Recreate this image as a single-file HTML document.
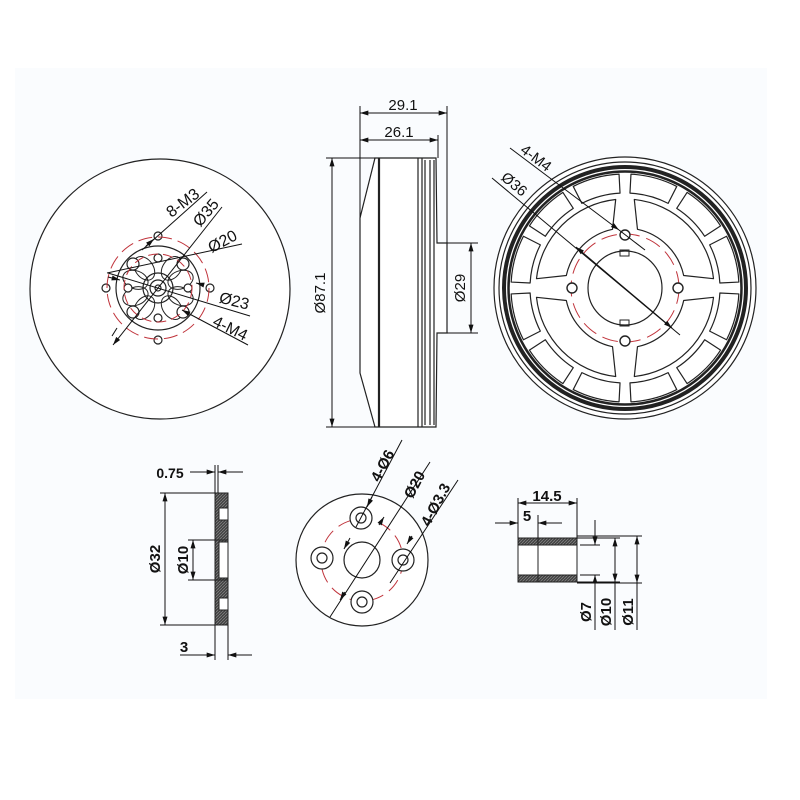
<!DOCTYPE html>
<html><head><meta charset="utf-8"><style>
html,body{margin:0;padding:0;background:#fff;}
svg{display:block;}
text{font-family:"Liberation Sans",sans-serif;fill:#111;}
</style></head><body>
<svg width="800" height="800" viewBox="0 0 800 800" xmlns="http://www.w3.org/2000/svg">
<defs>
<marker id="a" viewBox="0 0 10 6" refX="10" refY="3" markerWidth="9" markerHeight="5" orient="auto-start-reverse" markerUnits="userSpaceOnUse"><path d="M0,0 L10,3 L0,6 Z" fill="#111"/></marker>
<pattern id="h" width="3" height="3" patternUnits="userSpaceOnUse"><rect width="3" height="3" fill="#444"/><path d="M0,3 L3,0" stroke="#888" stroke-width="0.7"/></pattern>
</defs>
<rect x="15" y="68" width="752" height="631" fill="#fafcfe"/>

<!-- LEFT FRONT VIEW -->
<g fill="none" stroke="#222" stroke-width="1.2">
<circle cx="160" cy="289" r="130" fill="#fff"/>
<circle cx="158" cy="288" r="42"/>
<circle cx="158" cy="288" r="15"/>
<circle cx="158" cy="288" r="8"/>
<circle cx="158" cy="288" r="3"/>
<g stroke-width="1">
<ellipse cx="158" cy="264" rx="9" ry="13" transform="rotate(35 158 288)"/>
<ellipse cx="158" cy="264" rx="9" ry="13" transform="rotate(-35 158 288)"/>
<ellipse cx="158" cy="264" rx="9" ry="13" transform="rotate(145 158 288)"/>
<ellipse cx="158" cy="264" rx="9" ry="13" transform="rotate(-145 158 288)"/>
<ellipse cx="158" cy="264" rx="9" ry="13" transform="rotate(70 158 288)"/>
<ellipse cx="158" cy="264" rx="9" ry="13" transform="rotate(-70 158 288)"/>
<ellipse cx="158" cy="264" rx="9" ry="13" transform="rotate(110 158 288)"/>
<ellipse cx="158" cy="264" rx="9" ry="13" transform="rotate(-110 158 288)"/>
</g>
<g fill="#fff">
<circle cx="158" cy="236" r="4"/><circle cx="158" cy="340" r="4"/><circle cx="106" cy="288" r="4"/><circle cx="210" cy="288" r="4"/>
<circle cx="158" cy="258" r="4"/><circle cx="158" cy="318" r="4"/><circle cx="128" cy="288" r="4"/><circle cx="188" cy="288" r="4"/>
<circle cx="133" cy="264" r="6"/><circle cx="183" cy="264" r="6"/><circle cx="133" cy="312" r="6"/><circle cx="183" cy="312" r="6"/>
</g>
</g>
<circle cx="158" cy="288" r="51" fill="none" stroke="#c0343c" stroke-width="1" stroke-dasharray="14,6"/>
<circle cx="158" cy="288" r="34" fill="none" stroke="#c0343c" stroke-width="1" stroke-dasharray="10,5"/>
<g stroke="#111" stroke-width="1" fill="none">
<line x1="142" y1="250" x2="207" y2="192"/>
<line x1="146" y1="246" x2="154" y2="239" marker-end="url(#a)"/>
<line x1="113" y1="345" x2="222" y2="207" marker-start="url(#a)"/>
<line x1="107" y1="273" x2="242" y2="244"/>
<line x1="117" y1="328" x2="112" y2="336" />
<line x1="108" y1="273" x2="250" y2="316"/>
<line x1="120" y1="280" x2="108" y2="277" marker-start="url(#a)"/>
<line x1="200" y1="284" x2="196" y2="283" marker-end="url(#a)"/>
<line x1="182" y1="310" x2="248" y2="345" marker-start="url(#a)"/>
</g>
<text x="186" y="207" font-size="16" transform="rotate(-37 186 207)" text-anchor="middle">8-M3</text>
<text x="210" y="216" font-size="16" transform="rotate(-50 210 216)" text-anchor="middle">Ø35</text>
<text x="225" y="246" font-size="16" transform="rotate(-28 225 246)" text-anchor="middle">Ø20</text>
<text x="233" y="306" font-size="16" transform="rotate(14 233 306)" text-anchor="middle">Ø23</text>
<text x="228" y="333" font-size="16" transform="rotate(26 228 333)" text-anchor="middle">4-M4</text>

<!-- SIDE VIEW -->
<g fill="none" stroke="#222" stroke-width="1.2">
<path d="M375,158 L436,158 L437,243 L447,243 L447,333 L437,333 L436,427 L375,427 L360,373 L360,218 Z" fill="#fff"/>
<line x1="379" y1="158" x2="379" y2="427" stroke-width="2.2"/>
<line x1="418" y1="158" x2="418" y2="427"/>
<line x1="422" y1="158" x2="422" y2="427"/>
<line x1="425" y1="160" x2="425" y2="425"/>
<line x1="430" y1="160" x2="430" y2="425"/>
<line x1="434" y1="160" x2="434" y2="425"/>
</g>
<g stroke="#111" stroke-width="1" fill="none">
<line x1="360" y1="106" x2="360" y2="218"/>
<line x1="447" y1="106" x2="447" y2="243"/>
<line x1="438" y1="135" x2="438" y2="158"/>
<line x1="360" y1="113" x2="447" y2="113" marker-start="url(#a)" marker-end="url(#a)"/>
<line x1="360" y1="140" x2="438" y2="140" marker-start="url(#a)" marker-end="url(#a)"/>
<line x1="326" y1="158" x2="375" y2="158"/>
<line x1="326" y1="427" x2="375" y2="427"/>
<line x1="332" y1="158" x2="332" y2="427" marker-start="url(#a)" marker-end="url(#a)"/>
<line x1="447" y1="243" x2="478" y2="243"/>
<line x1="447" y1="333" x2="478" y2="333"/>
<line x1="471" y1="243" x2="471" y2="333" marker-start="url(#a)" marker-end="url(#a)"/>
</g>
<text x="403" y="110" font-size="15" text-anchor="middle">29.1</text>
<text x="399" y="137" font-size="15" text-anchor="middle">26.1</text>
<text x="325" y="293" font-size="15" text-anchor="middle" transform="rotate(-90 325 293)">Ø87.1</text>
<text x="465" y="288" font-size="15" text-anchor="middle" transform="rotate(-90 465 288)">Ø29</text>

<!-- RIGHT VIEW -->
<g fill="none" stroke="#222" stroke-width="1.2">
<circle cx="625" cy="288" r="131" fill="#fff"/>
<circle cx="625" cy="288" r="126"/>
<circle cx="625" cy="288" r="121" stroke-width="4"/>
<circle cx="625" cy="288" r="116.5" stroke-width="2.5"/>
<circle cx="625" cy="288" r="37"/>
</g>
<g fill="#fff" stroke="#222" stroke-width="1.2" stroke-linejoin="round">
<g id="oc">
<path d="M629.97,193.13 A95,95 0 0 1 668.13,203.36 L676.76,186.43 A114,114 0 0 0 630.96,174.16 Z"/>
</g>
<use href="#oc" transform="rotate(30 625 288)"/>
<use href="#oc" transform="rotate(60 625 288)"/>
<use href="#oc" transform="rotate(90 625 288)"/>
<use href="#oc" transform="rotate(120 625 288)"/>
<use href="#oc" transform="rotate(150 625 288)"/>
<use href="#oc" transform="rotate(180 625 288)"/>
<use href="#oc" transform="rotate(210 625 288)"/>
<use href="#oc" transform="rotate(240 625 288)"/>
<use href="#oc" transform="rotate(270 625 288)"/>
<use href="#oc" transform="rotate(300 625 288)"/>
<use href="#oc" transform="rotate(330 625 288)"/>
<g id="ic">
<path d="M637.47,229.31 A60,60 0 0 1 683.69,275.53 L713.51,278.70 A89,89 0 0 0 634.30,199.49 Z"/>
</g>
<use href="#ic" transform="rotate(90 625 288)"/>
<use href="#ic" transform="rotate(180 625 288)"/>
<use href="#ic" transform="rotate(270 625 288)"/>
</g>
<circle cx="625" cy="288" r="54" fill="none" stroke="#c0343c" stroke-width="1" stroke-dasharray="16,7"/>
<g fill="#fff" stroke="#222" stroke-width="1.4">
<circle cx="625" cy="235" r="5"/><circle cx="625" cy="341" r="5"/><circle cx="572" cy="288" r="5"/><circle cx="678" cy="288" r="5"/>
</g>
<g fill="none" stroke="#222" stroke-width="1">
<rect x="620" y="250" width="9" height="6"/><rect x="620" y="320" width="9" height="6"/>
</g>
<g stroke="#111" stroke-width="1" fill="none">
<line x1="510" y1="148" x2="619" y2="230" marker-end="url(#a)"/>
<line x1="619" y1="230" x2="645" y2="250"/>
<line x1="492" y1="178" x2="680" y2="335"/>
<line x1="576" y1="247" x2="672" y2="328" marker-start="url(#a)" marker-end="url(#a)"/>
</g>
<text x="533" y="162" font-size="15" text-anchor="middle" transform="rotate(37 533 162)">4-M4</text>
<text x="511" y="188" font-size="15" text-anchor="middle" transform="rotate(40 511 188)">Ø36</text>

<!-- WASHER SIDE -->
<g stroke="#222" stroke-width="1">
<rect x="215" y="493" width="13" height="132" fill="url(#h)"/>
<rect x="219" y="508" width="9" height="12" fill="#fff"/>
<rect x="215" y="540" width="13" height="40" fill="url(#h)"/>
<rect x="219" y="542" width="9" height="36" fill="#fff"/>
<rect x="219" y="598" width="9" height="12" fill="#fff"/>
</g>
<g stroke="#111" stroke-width="1" fill="none">
<line x1="215" y1="465" x2="215" y2="493"/><line x1="218" y1="465" x2="218" y2="493"/>
<line x1="190" y1="472" x2="215" y2="472" marker-end="url(#a)"/>
<line x1="243" y1="472" x2="218" y2="472" marker-end="url(#a)"/>
<line x1="160" y1="493" x2="215" y2="493"/><line x1="160" y1="625" x2="215" y2="625"/>
<line x1="165" y1="493" x2="165" y2="625" marker-start="url(#a)" marker-end="url(#a)"/>
<line x1="188" y1="540" x2="215" y2="540"/><line x1="188" y1="580" x2="215" y2="580"/>
<line x1="193" y1="540" x2="193" y2="580" marker-start="url(#a)" marker-end="url(#a)"/>
<line x1="215" y1="625" x2="215" y2="660"/><line x1="228" y1="625" x2="228" y2="660"/>
<line x1="180" y1="655" x2="215" y2="655" marker-end="url(#a)"/>
<line x1="252" y1="655" x2="228" y2="655" marker-end="url(#a)"/>
</g>
<text x="170" y="478" font-size="14" font-weight="bold" text-anchor="middle">0.75</text>
<text x="160" y="559" font-size="15" font-weight="bold" text-anchor="middle" transform="rotate(-90 160 559)">Ø32</text>
<text x="188" y="560" font-size="15" font-weight="bold" text-anchor="middle" transform="rotate(-90 188 560)">Ø10</text>
<text x="184" y="652" font-size="15" font-weight="bold" text-anchor="middle">3</text>

<!-- FLANGE FRONT -->
<g fill="none" stroke="#222" stroke-width="1.2">
<circle cx="362" cy="560" r="66" fill="#fff"/>
<circle cx="362" cy="560" r="18"/>
</g>
<circle cx="362" cy="560" r="41" fill="none" stroke="#c0343c" stroke-width="1" stroke-dasharray="14,7"/>
<g fill="#fff" stroke="#222" stroke-width="1.2">
<circle cx="361" cy="518" r="11"/><circle cx="361" cy="518" r="5"/>
<circle cx="322" cy="558" r="11"/><circle cx="322" cy="558" r="5"/>
<circle cx="403" cy="560" r="11"/><circle cx="403" cy="560" r="5"/>
<circle cx="362" cy="602" r="11"/><circle cx="362" cy="602" r="5"/>
</g>
<g stroke="#111" stroke-width="1" fill="none">
<line x1="402" y1="440" x2="356" y2="527"/>
<line x1="372" y1="497" x2="367" y2="507" marker-end="url(#a)"/>
<line x1="350" y1="538" x2="344" y2="549" marker-end="url(#a)"/>
<line x1="430" y1="462" x2="330" y2="617"/>
<line x1="345" y1="592" x2="340" y2="600" marker-end="url(#a)"/>
<line x1="379" y1="525" x2="384" y2="517" marker-end="url(#a)"/>
<line x1="458" y1="480" x2="390" y2="583"/>
<line x1="412" y1="536" x2="407" y2="544" marker-end="url(#a)"/>
</g>
<text x="387" y="468" font-size="15" font-weight="bold" text-anchor="middle" transform="rotate(-62 387 468)">4-Ø6</text>
<text x="419" y="487" font-size="15" font-weight="bold" text-anchor="middle" transform="rotate(-62 419 487)">Ø20</text>
<text x="440" y="507" font-size="15" font-weight="bold" text-anchor="middle" transform="rotate(-62 440 507)">4-Ø3.3</text>

<!-- SLEEVE -->
<g stroke="#222" stroke-width="1">
<rect x="518" y="538" width="59" height="44" fill="#fff"/>
<rect x="518" y="538" width="59" height="7" fill="url(#h)"/>
<rect x="518" y="575" width="59" height="7" fill="url(#h)"/>
<line x1="538" y1="538" x2="538" y2="582"/>
</g>
<g stroke="#111" stroke-width="1" fill="none">
<line x1="518" y1="498" x2="518" y2="538"/><line x1="577" y1="498" x2="577" y2="538"/><line x1="538" y1="515" x2="538" y2="538"/>
<line x1="518" y1="503" x2="577" y2="503" marker-start="url(#a)" marker-end="url(#a)"/>
<line x1="495" y1="523" x2="518" y2="523" marker-end="url(#a)"/>
<line x1="562" y1="523" x2="538" y2="523" marker-end="url(#a)"/>
<line x1="577" y1="536" x2="642" y2="536"/><line x1="577" y1="583" x2="642" y2="583"/>
<line x1="580" y1="545" x2="600" y2="545"/><line x1="580" y1="575" x2="600" y2="575"/>
<line x1="577" y1="538" x2="620" y2="538"/><line x1="577" y1="582" x2="620" y2="582"/>
<line x1="595" y1="520" x2="595" y2="545" marker-end="url(#a)"/>
<line x1="595" y1="600" x2="595" y2="575" marker-end="url(#a)"/>
<line x1="595" y1="600" x2="595" y2="630"/>
<line x1="615" y1="538" x2="615" y2="582" marker-start="url(#a)" marker-end="url(#a)"/>
<line x1="615" y1="582" x2="615" y2="630"/>
<line x1="637" y1="536" x2="637" y2="583" marker-start="url(#a)" marker-end="url(#a)"/>
<line x1="637" y1="583" x2="637" y2="630"/>
</g>
<text x="547" y="501" font-size="15" font-weight="bold" text-anchor="middle">14.5</text>
<text x="527" y="521" font-size="15" font-weight="bold" text-anchor="middle">5</text>
<text x="591" y="612" font-size="15" font-weight="bold" text-anchor="middle" transform="rotate(-90 591 612)">Ø7</text>
<text x="611" y="612" font-size="15" font-weight="bold" text-anchor="middle" transform="rotate(-90 611 612)">Ø10</text>
<text x="633" y="612" font-size="15" font-weight="bold" text-anchor="middle" transform="rotate(-90 633 612)">Ø11</text>
</svg>
</body></html>
